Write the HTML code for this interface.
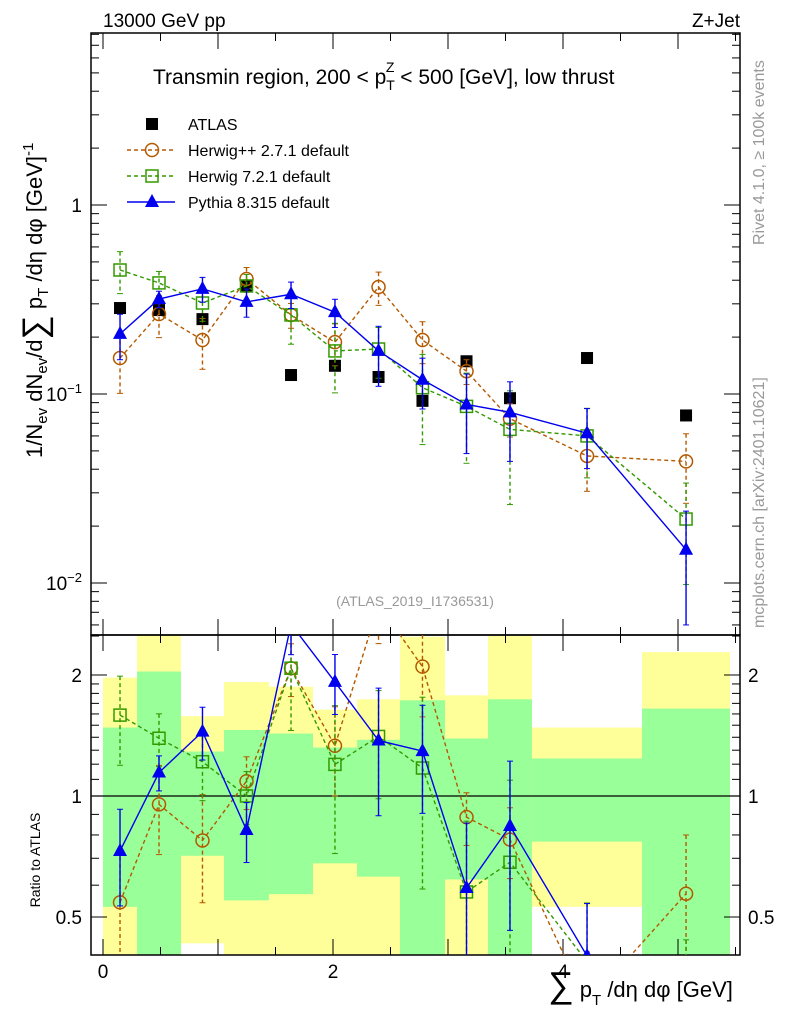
<!DOCTYPE html>
<html><head><meta charset="utf-8"><style>
html,body{margin:0;background:#fff;width:786px;height:1024px;overflow:hidden;}
svg{display:block;font-family:"Liberation Sans",sans-serif;}
</style></head><body>
<svg id="c" width="786" height="1024" viewBox="0 0 786 1024">
<text x="103" y="27" font-size="19">13000 GeV pp</text>
<text x="740" y="27" font-size="19" text-anchor="end">Z+Jet</text>
<text x="153" y="84" font-size="21">Transmin region, 200 &lt; p<tspan font-size="14" dy="6">T</tspan><tspan font-size="14" dx="-9" dy="-18">Z</tspan><tspan dy="12"> &lt; 500 [GeV], low thrust</tspan></text>
<text x="415" y="606" font-size="14" fill="#999" text-anchor="middle">(ATLAS_2019_I1736531)</text>
<text transform="translate(764,245) rotate(-90)" font-size="16" fill="#999">Rivet 4.1.0, ≥ 100k events</text>
<text transform="translate(764,628) rotate(-90)" font-size="16" fill="#999">mcplots.cern.ch [arXiv:2401.10621]</text>
<text transform="translate(42,458) rotate(-90)" font-size="22">1/N<tspan font-size="15" dy="5">ev</tspan><tspan dy="-5"> dN</tspan><tspan font-size="15" dy="5">ev</tspan><tspan dy="-5">/d</tspan><tspan font-size="34" dy="4">∑</tspan><tspan dy="-4"> p</tspan><tspan font-size="15" dy="6">T</tspan><tspan dy="-6"> /dη dφ  [GeV]</tspan><tspan font-size="15" dy="-9">-1</tspan></text>
<text transform="translate(40,860) rotate(-90)" font-size="14" text-anchor="middle">Ratio to ATLAS</text>
<text x="548" y="997" font-size="22"><tspan font-size="36">∑</tspan> p<tspan font-size="15" dy="8">T</tspan><tspan dy="-8"> /dη dφ [GeV]</tspan></text>
<g id="legend"></g>
</svg>
<script>
const binEdges=[0,0.296,0.678,1.052,1.443,1.826,2.209,2.583,2.974,3.348,3.730,4.687,5.452];
const xCenters=[0.148,0.487,0.865,1.248,1.635,2.017,2.396,2.778,3.161,3.539,4.209,5.07];
const atlas=[0.285,0.278,0.249,0.373,0.126,0.141,0.123,0.092,0.149,0.095,0.155,0.077];
const herwigpp=[0.155,0.265,0.193,0.406,0.262,0.188,0.368,0.193,0.132,0.074,0.047,0.044];
const herwigppErr=[0.35,0.25,0.3,0.15,0.15,0.25,0.2,0.25,0.15,0.2,0.35,0.4];
const herwig7=[0.453,0.387,0.303,0.373,0.262,0.169,0.173,0.108,0.086,0.065,0.060,0.0218];
const herwig7Err=[0.25,0.15,0.2,0.15,0.3,0.4,0.3,0.5,0.5,0.6,0.4,0.55];
const pythia=[0.208,0.318,0.36,0.307,0.337,0.271,0.169,0.119,0.088,0.080,0.062,0.015];
const pythiaErr=[0.27,0.1,0.15,0.17,0.16,0.17,0.35,0.3,0.45,0.45,0.35,0.6];
const bandYellowHi=[1.97,2.6,1.58,1.92,1.87,1.64,1.74,2.49,1.78,2.5,1.48,2.28];
const bandGreenHi=[1.48,2.04,1.29,1.46,1.43,1.32,1.38,1.73,1.39,1.74,1.24,1.65];
const bandGreenLo=[0.53,0.3,0.71,0.55,0.57,0.68,0.63,0.3,0.62,0.3,0.77,0.3];
const bandYellowLo=[0.3,0.2,0.43,0.3,0.3,0.3,0.3,0.2,0.3,0.2,0.53,0.2];
const mainTicks=[1,0.1,0.01];
const ratioTicks=[0.5,1,2];
const xTickLabels=[0,2,4];

const NS="http://www.w3.org/2000/svg";
const svg=document.getElementById('c');
const L=91,R=740,T1=33,B1=635,T2=635,B2=955;
const xs=v=>103+115*v;
const ym=v=>205-189*Math.log10(v);
const yr=v=>796-402*Math.log10(v);
function el(tag,attrs,parent){const e=document.createElementNS(NS,tag);for(const k in attrs)e.setAttribute(k,attrs[k]);(parent||svg).appendChild(e);return e;}
const clipA=el('clipPath',{id:'cm'});el('rect',{x:L,y:T1,width:R-L,height:B1-T1},clipA);
const clipB=el('clipPath',{id:'cr'});el('rect',{x:L,y:T2,width:R-L,height:B2-T2},clipB);
const gBand=el('g',{'clip-path':'url(#cr)'});


for(let i=0;i<atlas.length;i++){
  const x0=xs(binEdges[i]),x1=xs(binEdges[i+1]);
  const a=el('rect',{x:x0,y:yr(bandYellowHi[i]),width:x1-x0,height:yr(bandYellowLo[i])-yr(bandYellowHi[i]),fill:'#ffff99'},gBand);
  
  
  const b=el('rect',{x:x0,y:yr(bandGreenHi[i]),width:x1-x0,height:yr(bandGreenLo[i])-yr(bandGreenHi[i]),fill:'#99ff99'},gBand);
  
  
}
el('line',{x1:L,x2:R,y1:yr(1),y2:yr(1),stroke:'#000','stroke-width':1.3});
el('rect',{x:L,y:T1,width:R-L,height:B1-T1,fill:'none',stroke:'#000','stroke-width':1.5});
el('rect',{x:L,y:T2,width:R-L,height:B2-T2,fill:'none',stroke:'#000','stroke-width':1.5});
for(let d=-3;d<=0;d++){for(let m=1;m<=9;m++){const v=m*Math.pow(10,d);const y=ym(v);if(y<T1||y>B1)continue;const len=m==1?16:8;
 el('line',{x1:L,x2:L+len,y1:y,y2:y,stroke:'#000'});el('line',{x1:R-len,x2:R,y1:y,y2:y,stroke:'#000'});}}
mainTicks.forEach(v=>{const t=el('text',{x:82,y:ym(v)+7,'font-size':19,'text-anchor':'end'});
 
 
 if(v===1)t.textContent='1';else{const e=Math.round(Math.log10(v));t.textContent='10';const s=el('tspan',{'font-size':13,dy:-8},t);s.textContent=String(e).replace('-','−');}});
[0.4,0.5,0.6,0.7,0.8,0.9,1,1.1,1.2,1.3,1.4,1.5,1.6,1.7,1.8,1.9,2,2.5].forEach(v=>{const y=yr(v);if(y<T2||y>B2)return;const len=[0.5,1,2].includes(v)?16:8;
 el('line',{x1:L,x2:L+len,y1:y,y2:y,stroke:'#000'});el('line',{x1:R-len,x2:R,y1:y,y2:y,stroke:'#000'});});
ratioTicks.forEach(v=>{const a=el('text',{x:82,y:yr(v)+7,'font-size':19,'text-anchor':'end'});a.textContent=v;
 
 
 const b=el('text',{x:748,y:yr(v)+7,'font-size':19});b.textContent=v;
 
 });
for(let v=0;v<=5.5;v+=0.5){const x=xs(v);const len=(v%1===0)?16:8;
 [[T1,1],[B1,-1],[T2,1],[B2,-1]].forEach(([y,s])=>el('line',{x1:x,x2:x,y1:y,y2:y+s*len,stroke:'#000'}));}
xTickLabels.forEach(v=>{const t=el('text',{x:xs(v),y:978,'font-size':19,'text-anchor':'middle'});t.textContent=v;
 
 });

function marker(g,type,x,y,color){
 if(type==='sq')return el('rect',{x:x-6,y:y-6,width:12,height:12,fill:'none',stroke:color,'stroke-width':1.5},g);
 if(type==='ci')return el('circle',{cx:x,cy:y,r:6.5,fill:'none',stroke:color,'stroke-width':1.5},g);
 if(type==='tri')return el('path',{d:`M${x},${y-8}L${x+7},${y+5}L${x-7},${y+5}Z`,fill:color},g);
 if(type==='blk')return el('rect',{x:x-6,y:y-6,width:12,height:12,fill:'#000'},g);
}
function series(vals,err,color,type,dash,name,yf,clip,norm){
 const g=el('g',{'clip-path':`url(#${clip})`});
 
 
 const pts=vals.map((v,i)=>[xs(xCenters[i]),yf(norm?v/atlas[i]:v)]);
 el('polyline',{points:pts.map(p=>p.join(',')).join(' '),fill:'none',stroke:color,'stroke-width':1.4,'stroke-dasharray':dash},g);
 vals.forEach((v,i)=>{const b=norm?v/atlas[i]:v;const x=pts[i][0];
  const y1=yf(b*(1+err[i])),y2=yf(b*(1-err[i]));
  el('line',{x1:x,x2:x,y1:y1,y2:y2,stroke:color,'stroke-width':1.4,'stroke-dasharray':dash},g);
  el('line',{x1:x-3,x2:x+3,y1:y1,y2:y1,stroke:color},g);el('line',{x1:x-3,x2:x+3,y1:y2,y2:y2,stroke:color},g);
  const m=marker(g,type,x,pts[i][1],color);
  
  });
}
const gA=el('g',{'clip-path':'url(#cm)'});


atlas.forEach((v,i)=>{const m=marker(gA,'blk',xs(xCenters[i]),ym(v));
 
 });
series(herwigpp,herwigppErr,'#b35900','ci','4,3','herwigpp-series',ym,'cm',false);
series(herwig7,herwig7Err,'#339900','sq','4,3','herwig7-series',ym,'cm',false);
series(pythia,pythiaErr,'#0000ee','tri','','pythia-series',ym,'cm',false);
series(herwigpp,herwigppErr,'#b35900','ci','4,3','herwigpp-ratio',yr,'cr',true);
series(herwig7,herwig7Err,'#339900','sq','4,3','herwig7-ratio',yr,'cr',true);
series(pythia,pythiaErr,'#0000ee','tri','','pythia-ratio',yr,'cr',true);
const lg=document.getElementById('legend');
const items=[['ATLAS','blk','#000',''],['Herwig++ 2.7.1 default','ci','#b35900','4,3'],['Herwig 7.2.1 default','sq','#339900','4,3'],['Pythia 8.315 default','tri','#0000ee','']];
items.forEach((it,i)=>{const y=124+26*i;
 const g=el('g',{},lg);
 
 
 if(it[1]!=='blk')el('line',{x1:127,x2:175,y1:y,y2:y,stroke:it[2],'stroke-width':1.4,'stroke-dasharray':it[3]},g);
 marker(g,it[1],152,y,it[2]);
 const t=el('text',{x:188,y:y+6,'font-size':16},g);t.textContent=it[0];});
</script>
</body></html>
